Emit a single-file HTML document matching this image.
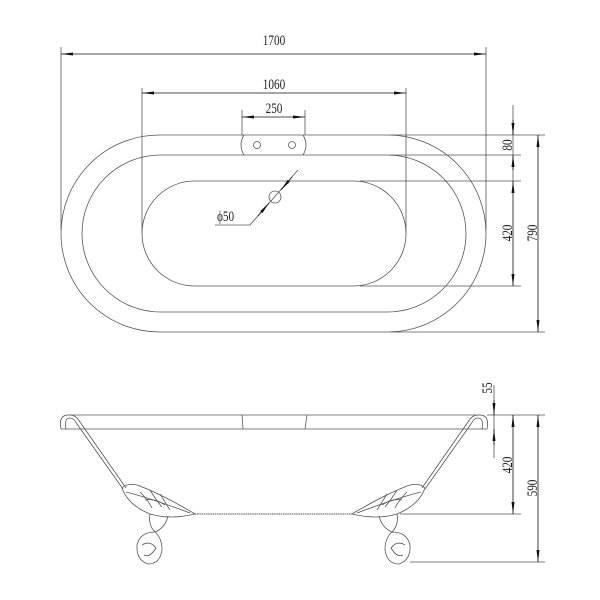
<!DOCTYPE html>
<html><head><meta charset="utf-8"><style>
html,body{margin:0;padding:0;background:#fff}
svg{display:block}
text{font-family:"Liberation Serif",serif;font-size:15px;fill:#222}
</style></head><body>
<svg width="600" height="600" viewBox="0 0 600 600" xmlns="http://www.w3.org/2000/svg">
<defs>
<marker id="a" viewBox="0 0 12 4" refX="12" refY="2" markerWidth="12" markerHeight="4" orient="auto" markerUnits="userSpaceOnUse"><path d="M0,0.5 L12,2 L0,3.5Z" fill="#111"/></marker>
</defs>
<g fill="none" stroke="#555" stroke-width="0.8">
<rect x="61" y="135" width="425" height="197" rx="98.5" ry="98.5"/>
<rect x="82" y="155" width="384" height="157" rx="78.5" ry="78.5"/>
<rect x="142" y="181" width="264" height="105" rx="52.5" ry="52.5"/>
<path d="M244,135 Q238,145 244,155"/><path d="M303,135 Q309,145 303,155"/>
<circle cx="257" cy="145" r="3.5"/><circle cx="292" cy="145" r="3.5"/>
<circle cx="275" cy="197" r="6"/>
<line x1="61" y1="47" x2="61" y2="230"/>
<line x1="486" y1="47" x2="486" y2="230"/>
<line x1="142" y1="88" x2="142" y2="233"/>
<line x1="406" y1="88" x2="406" y2="233"/>
<line x1="242" y1="110" x2="242" y2="135"/>
<line x1="305" y1="110" x2="305" y2="135"/>
<line x1="390" y1="135" x2="545" y2="135"/>
<line x1="390" y1="155" x2="521" y2="155"/>
<line x1="360" y1="181" x2="521" y2="181"/>
<line x1="360" y1="286" x2="521" y2="286"/>
<line x1="390" y1="332" x2="545" y2="332"/>
<line x1="513" y1="105" x2="513" y2="181"/>
<polyline points="298,170 250,225 215,225"/>
</g>
<g stroke="#111" stroke-width="0.8" fill="none">
<line x1="274" y1="54" x2="61" y2="54" marker-end="url(#a)"/>
<line x1="274" y1="54" x2="486" y2="54" marker-end="url(#a)"/>
<line x1="274" y1="93" x2="142" y2="93" marker-end="url(#a)"/>
<line x1="274" y1="93" x2="406" y2="93" marker-end="url(#a)"/>
<line x1="274" y1="117" x2="242" y2="117" marker-end="url(#a)"/>
<line x1="274" y1="117" x2="305" y2="117" marker-end="url(#a)"/>
<line x1="513" y1="120" x2="513" y2="135" marker-end="url(#a)"/>
<line x1="513" y1="170" x2="513" y2="155" marker-end="url(#a)"/>
<line x1="513" y1="233" x2="513" y2="181" marker-end="url(#a)"/>
<line x1="513" y1="233" x2="513" y2="286" marker-end="url(#a)"/>
<line x1="538" y1="233" x2="538" y2="135" marker-end="url(#a)"/>
<line x1="538" y1="233" x2="538" y2="332" marker-end="url(#a)"/>
<line x1="292" y1="177" x2="281" y2="190" marker-end="url(#a)"/>
<line x1="258" y1="216" x2="269" y2="203" marker-end="url(#a)"/>
</g>
<text transform="translate(274,45) scale(0.75,1)" text-anchor="middle">1700</text>
<text transform="translate(274,89) scale(0.75,1)" text-anchor="middle">1060</text>
<text transform="translate(274,113) scale(0.75,1)" text-anchor="middle">250</text>
<text transform="translate(217,221) scale(0.75,1)">ϕ50</text>
<text transform="translate(512,145) rotate(-90) scale(0.75,1)" text-anchor="middle">80</text>
<text transform="translate(512,233) rotate(-90) scale(0.75,1)" text-anchor="middle">420</text>
<text transform="translate(537,233) rotate(-90) scale(0.75,1)" text-anchor="middle">790</text>

<g fill="none" stroke="#555" stroke-width="0.8">
<line x1="70" y1="415" x2="478" y2="415"/>
<line x1="61" y1="429" x2="487" y2="429"/>
<line x1="242" y1="415" x2="243" y2="429"/><line x1="307" y1="415" x2="305" y2="429"/>
<path d="M61,429 Q58,414 70,415 Q76,415 80,422 L126,488"/>
<path d="M66,429 Q64,418 70,418 Q74,418 77,424 L123,489"/>
<path d="M487,429 Q490,414 478,415 Q472,415 468,422 L422,488"/>
<path d="M482,429 Q484,418 478,418 Q474,418 471,424 L425,489"/>
<line x1="195" y1="514" x2="352" y2="514" stroke="#777" stroke-width="1.3" stroke-dasharray="1.5,0.7"/>
<line x1="400" y1="514" x2="521" y2="514"/>
<line x1="410" y1="562" x2="545" y2="562"/>
<line x1="487" y1="415" x2="545" y2="415"/>
<line x1="494" y1="385" x2="494" y2="458"/>
<g id="foot">
<path d="M122,488 Q128,482 140,486 Q165,496 195,514 Q170,520 150,514 Q128,505 122,488Z"/>
<path d="M126,492 Q150,498 190,513"/>
<path d="M140,492 Q148,500 152,508 M150,490 Q156,500 162,507 M160,494 Q165,502 170,510 M145,500 Q155,498 165,505"/>
<path d="M150,514 Q148,525 155,532 Q165,528 168,516"/>
<path d="M155,532 Q140,532 137,545 Q136,560 148,564 Q160,564 162,550 Q162,538 155,532Z"/>
<path d="M142,545 Q150,540 156,548 Q150,558 144,555"/>
</g>
<use href="#foot" transform="translate(547,0) scale(-1,1)"/>
</g>
<g stroke="#111" stroke-width="0.8" fill="none">
<line x1="494" y1="400" x2="494" y2="415" marker-end="url(#a)"/>
<line x1="494" y1="445" x2="494" y2="429" marker-end="url(#a)"/>
<line x1="513" y1="465" x2="513" y2="415" marker-end="url(#a)"/>
<line x1="513" y1="465" x2="513" y2="514" marker-end="url(#a)"/>
<line x1="538" y1="488" x2="538" y2="415" marker-end="url(#a)"/>
<line x1="538" y1="488" x2="538" y2="562" marker-end="url(#a)"/>
</g>
<text transform="translate(492,388) rotate(-90) scale(0.75,1)" text-anchor="middle">55</text>
<text transform="translate(512,465) rotate(-90) scale(0.75,1)" text-anchor="middle">420</text>
<text transform="translate(537,488) rotate(-90) scale(0.75,1)" text-anchor="middle">590</text>
</svg>
</body></html>
